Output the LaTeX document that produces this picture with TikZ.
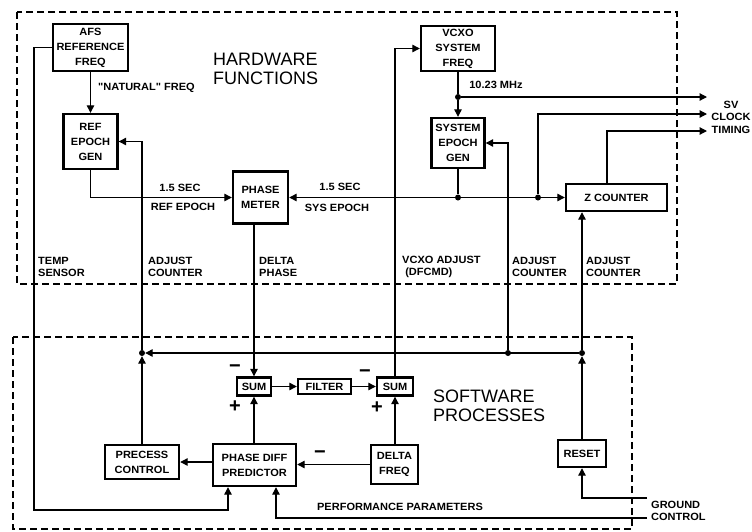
\documentclass[tikz,border=0pt]{standalone}
\usepackage{fontspec}
\setmainfont{Liberation Sans}
\newfontfamily\lblfam{Liberation Sans}[FakeStretch=1.05]
\newfontfamily\bigfam{Liberation Sans}
\usetikzlibrary{arrows.meta,calc}
\tikzset{
  blk/.style={draw, line width=2.4pt, align=center, inner sep=0pt,
    font=\lblfam\bfseries\fontsize{10.5}{15}\selectfont},
  lbl/.style={inner sep=0pt, align=left, font=\lblfam\bfseries\fontsize{10.5}{12.5}\selectfont},
  biglbl/.style={inner sep=0pt, align=left, font=\bigfam\fontsize{18}{19}\selectfont},
  sign/.style={inner sep=0pt, font=\bigfam\bfseries\fontsize{20}{20}\selectfont},
  conn/.style={line width=1.2pt},
  arr/.style={conn, -{Triangle[length=7.5pt,width=7.5pt]}},
  dotn/.style={circle, fill, inner sep=0pt, minimum size=6pt},
  region/.style={line width=1.2pt, dash pattern=on 7pt off 4pt}
}
\begin{document}
\begin{tikzpicture}[x=1pt,y=-1pt]
\useasboundingbox (0,0) rectangle (752,531);
% regions
\draw[region] (17,12) rectangle (677,284);
\draw[region] (13,337) rectangle (632,529);
% blocks
\node[blk, minimum width=75, minimum height=47] (afs) at (90.5,47.5) {AFS\\REFERENCE\\FREQ};
\node[blk, minimum width=54, minimum height=55] (refgen) at (90.5,141.5) {REF\\EPOCH\\GEN};
\node[blk, minimum width=55, minimum height=52] (phase) at (260.5,197.5) {PHASE\\METER};
\node[blk, minimum width=74, minimum height=45] (vcxo) at (458,48.5) {VCXO\\SYSTEM\\FREQ};
\node[blk, minimum width=53, minimum height=50] (sysgen) at (458,143) {SYSTEM\\EPOCH\\GEN};
\node[blk, minimum width=101, minimum height=27] (zc) at (616.5,197.5) {Z COUNTER};
\node[blk, minimum width=34, minimum height=18] (sum1) at (254,386.5) {SUM};
\node[blk, minimum width=53, minimum height=15] (filter) at (324.5,386.5) {FILTER};
\node[blk, minimum width=36, minimum height=18] (sum2) at (395,386.5) {SUM};
\node[blk, minimum width=47, minimum height=39] (delta) at (394.5,464.5) {DELTA\\FREQ};
\node[blk, minimum width=83, minimum height=42] (pdp) at (254.5,465) {PHASE DIFF\\PREDICTOR};
\node[blk, minimum width=74, minimum height=34] (pc) at (142,462) {PRECESS\\CONTROL};
\node[blk, minimum width=48, minimum height=27] (reset) at (582,453.5) {RESET};
% coordinates
\coordinate (o1) at (707,97);
\coordinate (o2) at (707,114);
\coordinate (o3) at (707,131);
\coordinate (zt) at (607,0);
\coordinate (ground) at (647,498);
\coordinate (perf) at (647,518);
\coordinate (px) at (276,0);
\coordinate (tx) at (34,0);
\coordinate (ty) at (0,510);
\coordinate (tx2) at (228,0);
% dots
\node[dotn] (d0) at (vcxo.south |- o1) {};
\node[dotn] (d1) at (sysgen.south |- phase.east) {};
\node[dotn] (d2) at (538,197.5) {};
\node[dotn] (b1) at (142,353) {};
\node[dotn] (b2) at (508,353) {};
\node[dotn] (b3) at (582,353) {};
% hardware connectors
\draw[arr] (afs.south) -- (afs.south |- refgen.north);
\draw[arr] (refgen.south) |- (phase.west);
\draw[conn] (vcxo.south) -- (d0);
\draw[arr] (d0) -- (sysgen.north);
\draw[arr] (d0) -- (o1);
\draw[conn] (sysgen.south) -- (d1);
\draw[arr] (d2) -- (phase.east);
\draw[arr] (d2) -- (zc.west);
\draw[arr] (d2) |- (o2);
\draw[arr] (zc.north -| zt) |- (o3);
% adjust lines
\draw[arr] (b1) |- (refgen.east);
\draw[arr] (b2) |- (sysgen.east);
\draw[arr] (b3) -- (b3 |- zc.south);
\draw[arr] (b3) -- (b1);
\draw[arr] (pc.north) -- (b1);
\draw[arr] (reset.north) -- (b3);
\draw[arr] (ground) -| (reset.south);
\draw[arr] (perf) -| (pdp.south -| px);
\draw[arr] (afs.west) -- (afs.west -| tx) -- (tx |- ty) -- (tx2 |- ty) -- (pdp.south -| tx2);
% software connectors
\draw[arr] (phase.south -| sum1.north) -- (sum1.north);
\draw[arr] (pdp.north -| sum1.south) -- (sum1.south);
\draw[arr] (sum1.east) -- (filter.west);
\draw[arr] (filter.east) -- (sum2.west);
\draw[arr] (sum2.north) |- (vcxo.west);
\draw[arr] (delta.north -| sum2.south) -- (sum2.south);
\draw[arr] (delta.west) -- (delta.west -| pdp.east);
\draw[arr] (pc.east -| pdp.west) -- (pc.east);
% signs
\node[sign] (m1) at (235,369) {−};
\node[sign] (p1) at (235,407) {+};
\node[sign] (m2) at (365,374) {−};
\node[sign] (p2) at (377,408) {+};
\node[sign] (m3) at (320,455) {−};
% labels
\node[lbl, anchor=west] (l1) at (98,88) {"NATURAL" FREQ};
\node[lbl] (l2) at (180,188) {1.5 SEC};
\node[lbl] (l3) at (183,207) {REF EPOCH};
\node[lbl] (l4) at (340,187) {1.5 SEC};
\node[lbl] (l5) at (337,208) {SYS EPOCH};
\node[lbl] (l6) at (496,85) {10.23 MHz};
\node[lbl, anchor=west] (l7) at (38,267) {TEMP\\SENSOR};
\node[lbl, anchor=west] (l8) at (148,267) {ADJUST\\COUNTER};
\node[lbl, anchor=west] (l9) at (259,267) {DELTA\\PHASE};
\node[lbl, anchor=west] (l10) at (402,267) {VCXO ADJUST\\\ (DFCMD)};
\node[lbl, anchor=west] (l11) at (512,267) {ADJUST\\COUNTER};
\node[lbl, anchor=west] (l12) at (586,267) {ADJUST\\COUNTER};
\node[lbl, align=center] (l13) at (731,117) {SV\\CLOCK\\TIMING};
\node[lbl] (l14) at (400,507) {PERFORMANCE PARAMETERS};
\node[lbl, anchor=west] (l15) at (651,511) {GROUND\\CONTROL};
\node[biglbl, anchor=west] (h1) at (213,69) {HARDWARE\\FUNCTIONS};
\node[biglbl, anchor=west] (h2) at (433,406) {SOFTWARE\\PROCESSES};
\end{tikzpicture}
\end{document}
